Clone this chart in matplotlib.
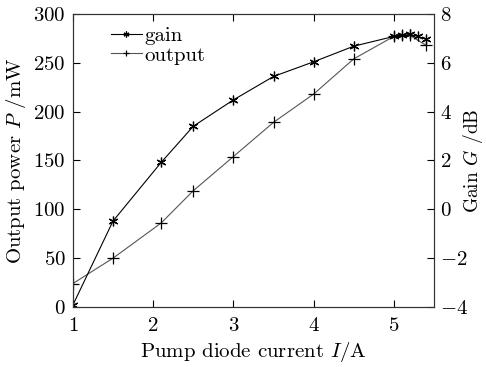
import matplotlib
matplotlib.use("Agg")
import matplotlib.pyplot as plt

plt.rcParams['font.family'] = ['cmr10', 'DejaVu Serif']
plt.rcParams['mathtext.fontset'] = 'cm'
plt.rcParams['axes.formatter.use_mathtext'] = True
plt.rcParams['font.size'] = 15

# output power (left axis, mW)
out_x = [1, 1.5, 2.1, 2.5, 3, 3.5, 4, 4.5, 5, 5.1, 5.2, 5.4]
out_p = [24, 50, 86, 119, 154, 189, 218, 254, 277, 278, 278, 268]

# gain (right axis, dB)
gain_x = [1, 1.5, 2.1, 2.5, 3, 3.5, 4, 4.5, 5, 5.1, 5.2, 5.3, 5.4]
gain_g = [-3.92, -0.48, 1.92, 3.4, 4.48, 5.44, 6.04, 6.68, 7.08, 7.12, 7.16, 7.08, 6.96]

fig = plt.figure(figsize=(4.86, 3.67), dpi=100)
ax = fig.add_axes([0.150, 0.1635, 0.743, 0.7985])
ax2 = ax.twinx()

l1, = ax2.plot(gain_x, gain_g, color='black', lw=0.8, marker=(6, 2, 0), ms=7,
               mew=0.9, mec='black', label='gain')
l2, = ax.plot(out_x, out_p, color='#555555', lw=0.8, marker='+', ms=8,
              mew=0.9, mec='black', label='output')

ax.set_xlim(1, 5.5)
ax.set_ylim(0, 300)
ax2.set_ylim(-4, 8)
ax.set_xticks([1, 2, 3, 4, 5])
ax.set_yticks([0, 50, 100, 150, 200, 250, 300])
ax2.set_yticks([-4, -2, 0, 2, 4, 6, 8])

ax.tick_params(direction='in', top=True, right=False, length=5, width=0.8, pad=5)
ax.tick_params(axis='x', pad=7)
ax2.tick_params(direction='in', length=5, width=0.8, pad=4)
for a in (ax, ax2):
    for s in a.spines.values():
        s.set_color('#333333')

ax.set_xlabel('Pump diode current $I$/A', labelpad=4)
ax.set_ylabel('Output power $P$ /mW', labelpad=4)
ax2.set_ylabel('Gain $G$ /dB', fontsize=14)
ax2.yaxis.set_label_coords(1.075, 0.5)

leg = ax.legend([l1, l2], ['gain', 'output'], loc='upper left', frameon=False,
                handlelength=1.5, handletextpad=0.1, borderaxespad=0.2,
                labelspacing=0.05, markerscale=0.6, bbox_to_anchor=(0.07, 1.0))

fig.savefig('out.png', dpi=100)
